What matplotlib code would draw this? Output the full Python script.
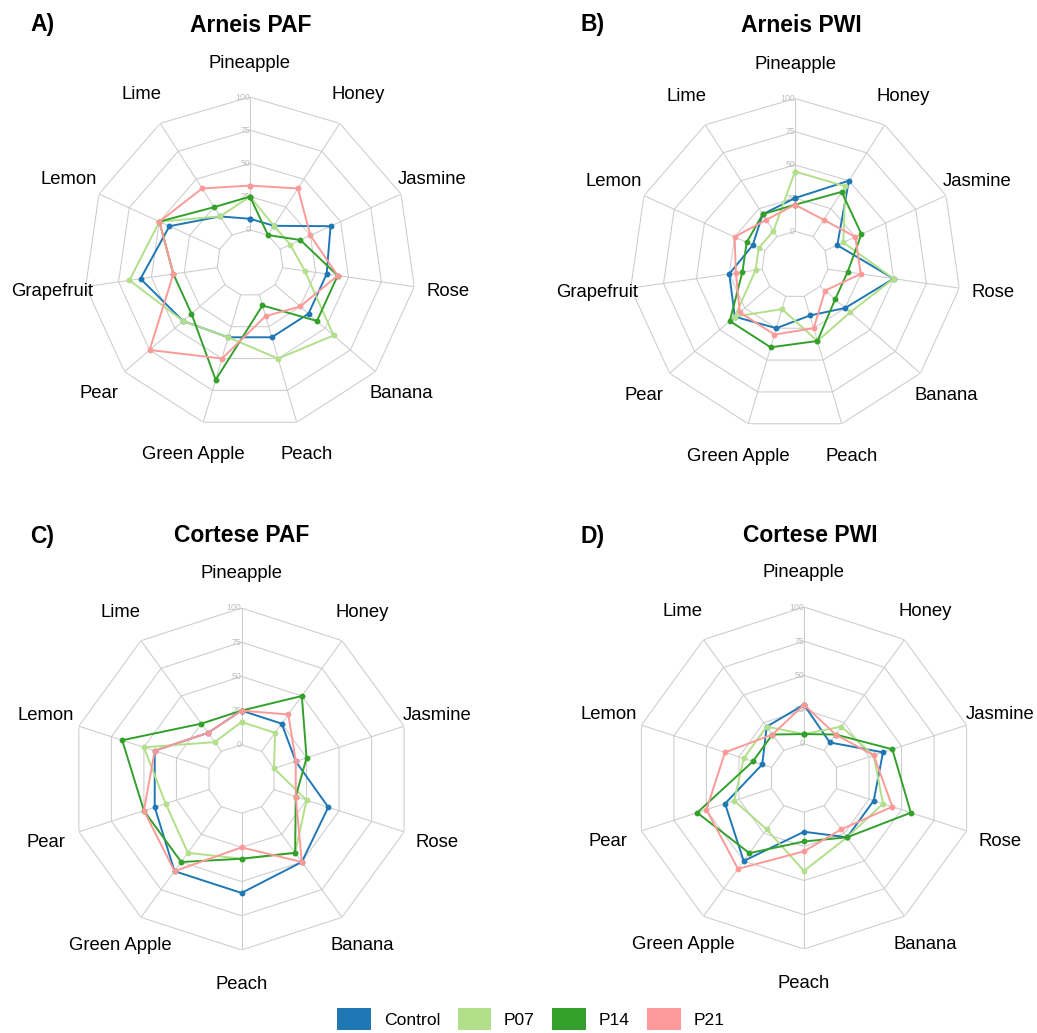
import numpy as np
import matplotlib
matplotlib.use("Agg")
import matplotlib.pyplot as plt
from matplotlib.patches import Patch

plt.rcParams['font.family'] = ['Liberation Sans', 'DejaVu Sans']

# Sensory attributes (Arneis panels include Grapefruit, Cortese panels do not)
attributes_arneis = ["Pineapple", "Honey", "Jasmine", "Rose", "Banana", "Peach",
                     "Green Apple", "Pear", "Grapefruit", "Lemon", "Lime"]
attributes_cortese = ["Pineapple", "Honey", "Jasmine", "Rose", "Banana", "Peach",
                      "Green Apple", "Pear", "Lemon", "Lime"]

treatments = ["Control", "P07", "P14", "P21"]
treatment_colors = ["#1F78B4", "#B2DF8A", "#33A02C", "#FB9A99"]

grid_levels = [0, 25, 50, 75, 100]

# Arneis PAF
arneis_paf_control = [8.3, 8.3, 41.7, 33.3, 33.3, 33.3, 33.3, 41.7, 58.3, 41.7, 16.7]
arneis_paf_p07 = [25.0, 8.3, 8.3, 16.7, 58.3, 50.0, 33.3, 41.7, 66.7, 50.0, 16.7]
arneis_paf_p14 = [25.0, 0.0, 16.7, 41.7, 41.7, 8.3, 66.7, 33.3, 33.3, 50.0, 25.0]
arneis_paf_p21 = [33.3, 41.7, 25.0, 41.7, 25.0, 16.7, 50.0, 75.0, 33.3, 50.0, 41.7]

# Arneis PWI
arneis_pwi_control = [25, 50, 10, 50, 25, 15, 25, 35, 25, 10, 20]
arneis_pwi_p07 = [45, 45, 15, 50, 30, 35, 10, 35, 5, 5, 5]
arneis_pwi_p14 = [20, 40, 30, 15, 15, 35, 40, 40, 15, 15, 20]
arneis_pwi_p21 = [20, 15, 25, 25, 5, 25, 30, 30, 20, 25, 15]

# Cortese PAF
cortese_paf_control = [25.0, 25.0, 16.7, 41.7, 50.0, 58.3, 58.3, 41.7, 41.7, 16.7]
cortese_paf_p07 = [16.7, 16.7, 0.0, 25.0, 41.7, 33.3, 41.7, 33.3, 50.0, 8.3]
cortese_paf_p14 = [25.0, 50.0, 25.0, 16.7, 41.7, 33.3, 50.0, 50.0, 66.7, 25.0]
cortese_paf_p21 = [25.0, 33.3, 16.7, 16.7, 50.0, 25.0, 58.3, 50.0, 41.7, 16.7]

# Cortese PWI
cortese_pwi_control = [28.6, 7.1, 35.7, 28.6, 28.6, 14.3, 50.0, 35.7, 7.1, 21.4]
cortese_pwi_p07 = [7.1, 21.4, 28.6, 35.7, 28.6, 42.9, 21.4, 28.6, 21.4, 21.4]
cortese_pwi_p14 = [7.1, 14.3, 42.9, 57.1, 28.6, 21.4, 42.9, 57.1, 14.3, 14.3]
cortese_pwi_p21 = [28.6, 14.3, 28.6, 42.9, 21.4, 28.6, 57.1, 50.0, 35.7, 14.3]

W, H = 1037, 1033
fig = plt.figure(figsize=(W / 100, H / 100), dpi=100)

panels = [
    dict(tag="A)", title="Arneis PAF", attrs=attributes_arneis,
         series=[arneis_paf_control, arneis_paf_p07, arneis_paf_p14, arneis_paf_p21],
         center=(250, 263), radius=166, title_xy=(251, 25), tag_xy=(30, 25)),
    dict(tag="B)", title="Arneis PWI", attrs=attributes_arneis,
         series=[arneis_pwi_control, arneis_pwi_p07, arneis_pwi_p14, arneis_pwi_p21],
         center=(795, 264.5), radius=166, title_xy=(801, 25), tag_xy=(580, 25)),
    dict(tag="C)", title="Cortese PAF", attrs=attributes_cortese,
         series=[cortese_paf_control, cortese_paf_p07, cortese_paf_p14, cortese_paf_p21],
         center=(241.5, 779), radius=171, title_xy=(242, 536), tag_xy=(30, 536)),
    dict(tag="D)", title="Cortese PWI", attrs=attributes_cortese,
         series=[cortese_pwi_control, cortese_pwi_p07, cortese_pwi_p14, cortese_pwi_p21],
         center=(804, 778), radius=171, title_xy=(810, 536), tag_xy=(580, 536)),
]

grid_color = "#CCCCCC"

for p in panels:
    cx, cy = p["center"]
    R = p["radius"]
    ax = fig.add_axes([(cx - R) / W, (H - cy - R) / H, 2 * R / W, 2 * R / H],
                      projection="polar")
    ax.set_theta_zero_location("N")
    ax.set_theta_direction(-1)
    ax.set_ylim(-25, 100)
    ax.axis("off")

    n = len(p["attrs"])
    theta = np.linspace(0, 2 * np.pi, n, endpoint=False)
    theta_closed = np.append(theta, theta[0])

    # polygonal grid rings and spokes
    for lvl in grid_levels:
        ax.plot(theta_closed, [lvl] * (n + 1), color=grid_color, lw=0.75,
                zorder=1, solid_joinstyle="miter")
    for t in theta:
        ax.plot([t, t], [0, 100], color=grid_color, lw=0.75, zorder=1)
    for lvl in grid_levels:
        ax.text(0, lvl, str(lvl), ha="right", va="center", fontsize=6.3,
                color="#BDBDBD", zorder=2)

    # treatment profiles
    for vals, color in zip(p["series"], treatment_colors):
        vals_closed = np.append(vals, vals[0])
        ax.plot(theta_closed, vals_closed, color=color, lw=1.4, marker="o",
                ms=3.2, zorder=3)

    # attribute labels
    for t, name in zip(theta, p["attrs"]):
        ax.text(t, 125.5, name, ha="center", va="center", fontsize=13.3,
                clip_on=False)

    tx, ty = p["title_xy"]
    fig.text(tx / W, 1 - ty / H, p["title"], ha="center", va="center",
             fontsize=16.5, fontweight="bold")
    gx, gy = p["tag_xy"]
    fig.text(gx / W, 1 - gy / H, p["tag"], ha="left", va="center",
             fontsize=16.5, fontweight="bold")

handles = [Patch(facecolor=c, edgecolor="none", label=t)
           for t, c in zip(treatments, treatment_colors)]
fig.legend(handles=handles, loc="center", bbox_to_anchor=(531 / W, 1 - 1019 / H),
           ncol=4, frameon=False, fontsize=12.6, handlelength=1.9,
           handleheight=1.6, handletextpad=0.75, columnspacing=1.0)

fig.savefig("out.png", dpi=100)
